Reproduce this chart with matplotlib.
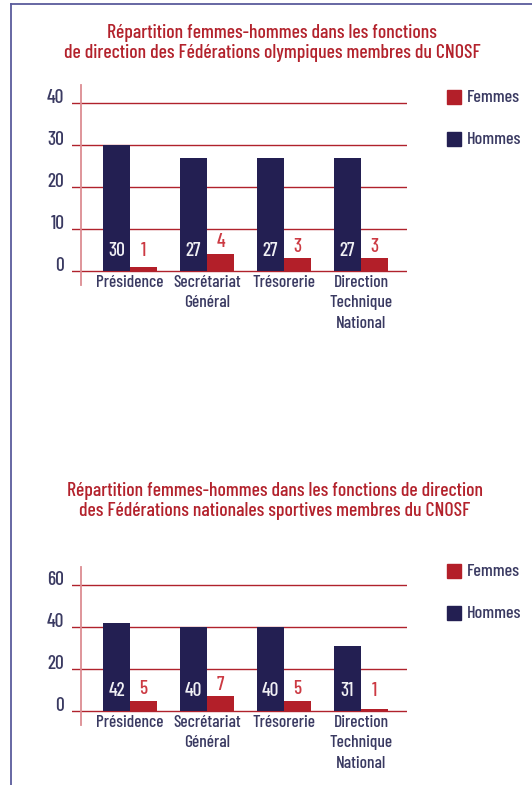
import matplotlib.pyplot as plt
from matplotlib.lines import Line2D
from matplotlib.patches import Rectangle
import matplotlib.transforms as mtransforms

plt.rcParams['font.family'] = ['Barlow Condensed', 'DejaVu Sans']
plt.rcParams['font.weight'] = 'medium'

categories = ['Présidence', 'Secrétariat\nGénéral', 'Trésorerie', 'Direction\nTechnique\nNational']

titre_1 = 'Répartition femmes-hommes dans les fonctions\nde direction des Fédérations olympiques membres du CNOSF'
hommes_1 = [30, 27, 27, 27]
femmes_1 = [1, 4, 3, 3]
yticks_1 = [0, 10, 20, 30, 40]

titre_2 = 'Répartition femmes-hommes dans les fonctions de direction\ndes Fédérations nationales sportives membres du CNOSF'
hommes_2 = [42, 40, 40, 31]
femmes_2 = [5, 7, 5, 1]
yticks_2 = [0, 20, 40, 60]

C_HOM = '#231f52'
C_FEM = '#b31f29'
C_GRID = '#b0222c'
C_AXE = '#dc8c92'
C_TXT = '#3a3a62'
C_TITRE = '#b3222c'
C_CADRE = '#5a5c9c'

W, H = 532, 785
fig = plt.figure(figsize=(W / 100, H / 100), dpi=100)

# cadre (bord gauche et haut)
fig.add_artist(Line2D([11 / W, 11 / W], [0, 1 - 3.5 / H], color=C_CADRE, lw=1.3))
fig.add_artist(Line2D([11 / W, 1], [1 - 3.5 / H, 1 - 3.5 / H], color=C_CADRE, lw=1.3))


def graphique(titre, hommes, femmes, yticks, y0, px_unite, y_haut, y_bas, titre_x, titre_y, leg_y, pas_lbl):
    # axes en pixels : x de 72 a 407
    x_g, x_d = 72, 407
    ymin = (y0 - y_bas) / px_unite
    ymax = (y0 - y_haut) / px_unite
    ax = fig.add_axes([x_g / W, 1 - y_bas / H, (x_d - x_g) / W, (y_bas - y_haut) / H])
    ax.set_ylim(ymin, ymax)
    ax.set_xlim(-58 / 77, 277 / 77)
    for s in ['top', 'right', 'bottom']:
        ax.spines[s].set_visible(False)
    ax.spines['left'].set_position(('axes', 9 / (x_d - x_g)))
    ax.spines['left'].set_color(C_AXE)
    ax.spines['left'].set_linewidth(1.3)
    for v in yticks:
        ax.axhline(v, color=C_GRID, lw=1.0, zorder=1)

    x = range(len(categories))
    larg = 27 / 77
    ax.bar([i - larg / 2 for i in x], hommes, width=larg, color=C_HOM, zorder=2)
    ax.bar([i + larg / 2 for i in x], femmes, width=larg, color=C_FEM, zorder=2)

    y_lbl = 20 / px_unite
    for i in x:
        ax.text(i - larg / 2, y_lbl, str(hommes[i]), color='#f0f0f4', fontsize=14,
                ha='center', va='center', zorder=3)
        yf = max(y_lbl, femmes[i] + pas_lbl)
        ax.text(i + larg / 2, yf, str(femmes[i]), color='#cc3a43', fontsize=14,
                ha='center', va='center', zorder=3)

    ax.set_yticks(yticks)
    ax.tick_params(axis='y', length=0, pad=12, labelsize=14, labelcolor=C_TXT)
    decal = mtransforms.ScaledTranslation(0, 5 / 72, fig.dpi_scale_trans)
    for lbl in ax.get_yticklabels():
        lbl.set_transform(lbl.get_transform() + decal)
    ax.set_xticks([])

    # libellés des catégories sous l'axe
    for i, c in enumerate(categories):
        ax.text(i, -4 / px_unite, c, color=C_TXT, fontsize=12.5,
                ha='center', va='top', linespacing=1.45)

    fig.text(titre_x / W, 1 - titre_y / H, titre, color=C_TITRE, fontsize=14.2,
             ha='center', va='center', linespacing=1.2)

    # légende
    for j, (nom, col) in enumerate([('Femmes', C_FEM), ('Hommes', C_HOM)]):
        yc = leg_y + j * 42
        fig.add_artist(Rectangle((447 / W, 1 - (yc + 7) / H), 14 / W, 14 / H,
                                 color=col, transform=fig.transFigure))
        fig.text(467 / W, 1 - yc / H, nom, color=C_TXT, fontsize=13, ha='left', va='center')


graphique(titre_1, hommes_1, femmes_1, yticks_1, 271, 4.2, 85, 285, 272, 43, 97, 2.8)
graphique(titre_2, hommes_2, femmes_2, yticks_2, 711, 2.1, 567, 725, 275, 501, 571, 5.5)

fig.savefig('out.png', dpi=100)
